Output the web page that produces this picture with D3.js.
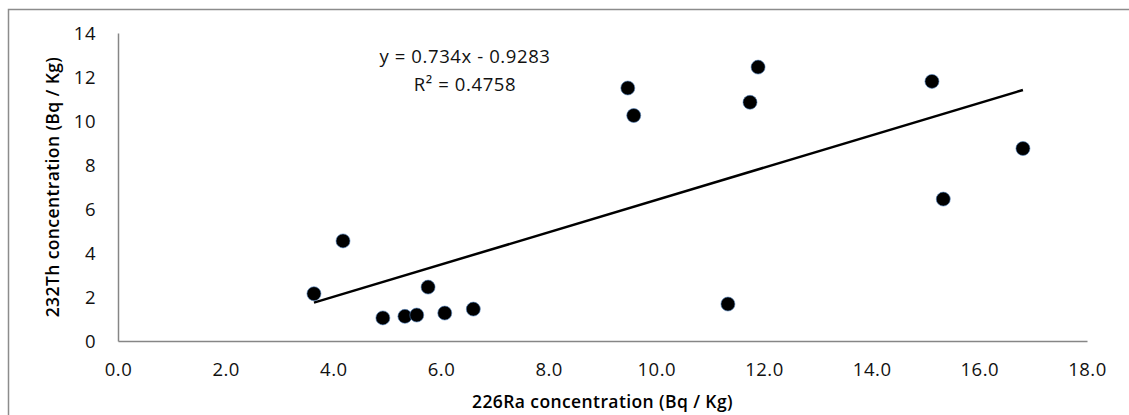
<!DOCTYPE html>
<html>
<head>
<meta charset="utf-8">
<script src="https://cdn.jsdelivr.net/npm/d3@7"></script>
<style>
  body { margin: 0; background: #fff; }
  text { font-family: "Open Sans", "Liberation Sans", sans-serif; fill: #000; }
</style>
</head>
<body>
<svg id="chart" width="1129" height="415"></svg>
<script>
// 226Ra vs 232Th concentration (Bq / Kg)
const raValues = [3.64, 4.18, 4.92, 5.33, 5.55, 5.76, 6.07, 6.6, 9.47, 9.58, 11.33, 11.74, 11.89, 15.12, 15.33, 16.81];
const thValues = [2.15, 4.55, 1.05, 1.12, 1.18, 2.45, 1.27, 1.45, 11.5, 10.25, 1.68, 10.85, 12.45, 11.8, 6.45, 8.75];
const xTicks = [0, 2, 4, 6, 8, 10, 12, 14, 16, 18];
const yTicks = [0, 2, 4, 6, 8, 10, 12, 14];
const trendSlope = 0.734;
const trendIntercept = -0.9283;
const equationLines = ["y = 0.734x - 0.9283", "R² = 0.4758"];

const svg = d3.select("#chart");
const margin = { left: 118, right: 42, top: 33, bottom: 74 };
const width = +svg.attr("width");
const height = +svg.attr("height");

// outer chart border
svg.append("rect")
    .attr("x", 8.5).attr("y", 9.5)
    .attr("width", 1140).attr("height", 420)
    .attr("fill", "none")
    .attr("stroke", "#8c8c8c")
    .attr("stroke-width", 1.5);

const x = d3.scaleLinear().domain([0, 18]).range([margin.left, width - margin.right]);
const y = d3.scaleLinear().domain([0, 14]).range([height - margin.bottom, margin.top]);

const xAxis = svg.append("g")
    .attr("transform", `translate(0,${y(0)})`)
    .call(d3.axisBottom(x).tickValues(xTicks).tickFormat(d3.format(".1f")).tickSize(0).tickPadding(22));

const yAxis = svg.append("g")
    .attr("transform", `translate(${x(0)},0)`)
    .call(d3.axisLeft(y).tickValues(yTicks).tickSize(0).tickPadding(22));

[xAxis, yAxis].forEach(g => {
    g.select(".domain").attr("stroke", "#868686").attr("stroke-width", 1.5);
    g.selectAll("text")
        .attr("font-family", null)
        .attr("font-size", null)
        .style("font-size", "18.5px")
        .style("letter-spacing", "0.5px")
        .style("fill", "#111");
});
yAxis.selectAll("text").attr("dy", "0.35em");

// trend line
const xMin = d3.min(raValues), xMax = d3.max(raValues);
svg.append("line")
    .attr("x1", x(xMin)).attr("y1", y(trendSlope * xMin + trendIntercept))
    .attr("x2", x(xMax)).attr("y2", y(trendSlope * xMax + trendIntercept))
    .attr("stroke", "#000")
    .attr("stroke-width", 2.5);

// points
svg.append("g")
    .selectAll("circle")
    .data(raValues.map((r, i) => [r, thValues[i]]))
    .enter().append("circle")
    .attr("cx", d => x(d[0]))
    .attr("cy", d => y(d[1]))
    .attr("r", 7)
    .attr("fill", "#000")
    .attr("stroke", "#4f81bd")
    .attr("stroke-opacity", 0.6)
    .attr("stroke-width", 1);

// equation label
svg.append("g")
    .selectAll("text")
    .data(equationLines)
    .enter().append("text")
    .attr("x", 465)
    .attr("y", (d, i) => 63 + i * 28)
    .attr("text-anchor", "middle")
    .style("font-size", "18.5px")
    .style("letter-spacing", "0.6px")
    .style("fill", "#111")
    .text(d => d);

// axis titles
svg.append("text")
    .attr("x", (x(0) + x(18)) / 2)
    .attr("y", 408)
    .attr("text-anchor", "middle")
    .style("font-size", "17.5px")
    .style("font-weight", "600")
    .style("letter-spacing", "0.4px")
    .text("226Ra concentration  (Bq / Kg)");

svg.append("text")
    .attr("transform", `translate(59,${(y(0) + y(14)) / 2}) rotate(-90)`)
    .attr("text-anchor", "middle")
    .style("font-size", "17.5px")
    .style("font-weight", "600")
    .style("letter-spacing", "0.4px")
    .text("232Th concentration  (Bq / Kg)");
</script>
</body>
</html>
